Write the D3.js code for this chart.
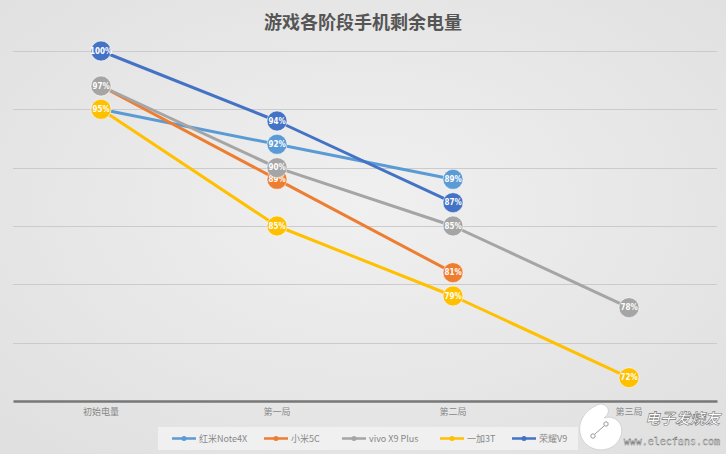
<!DOCTYPE html>
<html><head><meta charset="utf-8">
<script src="https://cdn.jsdelivr.net/npm/d3@7"></script>
<style>
html,body{margin:0;padding:0;}
body{width:726px;height:454px;overflow:hidden;}
svg{display:block;font-family:"Noto Sans CJK SC","Noto Sans",sans-serif;}
</style></head>
<body>
<svg id="chart" width="726" height="454"></svg>
<script>
const categories = ["初始电量", "第一局", "第二局", "第三局"];
const seriesNames = ["红米Note4X", "小米5C", "vivo X9 Plus", "一加3T", "荣耀V9"];
const seriesColors = ["#5b9bd5", "#ed7d31", "#a5a5a5", "#ffc000", "#4472c4"];
const valuesRedmi = [95, 92, 89];
const valuesMi5C = [97, 89, 81];
const valuesVivo = [97, 90, 85, 78];
const valuesOneplus = [95, 85, 79, 72];
const valuesHonor = [100, 94, 87];
const yTicks = [70, 75, 80, 85, 90, 95, 100];
const title = "游戏各阶段手机剩余电量";

const allValues = [valuesRedmi, valuesMi5C, valuesVivo, valuesOneplus, valuesHonor];
const series = seriesNames.map((n, i) => ({name: n, color: seriesColors[i], values: allValues[i]}));

const svg = d3.select("#chart");
const W = 726, H = 454;

// background
const defs = svg.append("defs");
const rg = defs.append("radialGradient").attr("id", "bg").attr("cx", "50%").attr("cy", "45%").attr("r", "70%");
rg.append("stop").attr("offset", "0%").attr("stop-color", "#f0f0f0");
rg.append("stop").attr("offset", "100%").attr("stop-color", "#e0e0e0");
svg.append("rect").attr("width", W).attr("height", H).attr("fill", "url(#bg)");

const x = d3.scaleBand().domain(categories).range([13, 717]);
const y = d3.scaleLinear().domain([70, 100]).range([401, 51]);
const cx = c => x(c) + x.bandwidth() / 2;

// title
svg.append("text").attr("x", 363).attr("y", 29).attr("text-anchor", "middle")
  .attr("font-size", 18).attr("font-weight", "bold").attr("fill", "#555").text(title);

// gridlines
const grid = svg.append("g");
grid.selectAll("line").data(yTicks.slice(1)).join("line")
  .attr("x1", 13).attr("x2", 717)
  .attr("y1", d => Math.round(y(d)) + 0.5).attr("y2", d => Math.round(y(d)) + 0.5)
  .attr("stroke", "#cbcbcb").attr("stroke-width", 1);

// x axis
const xAxis = d3.axisBottom(x).tickSize(0).tickPadding(8);
const gx = svg.append("g").attr("transform", `translate(0,${y(70)})`).call(xAxis);
gx.select(".domain").attr("stroke", "#777").attr("stroke-width", 2.5);
gx.selectAll("text").attr("font-size", 9).attr("fill", "#888")
  .attr("font-family", "'Noto Sans CJK SC',sans-serif");

// lines
const line = d3.line().x((d, i) => cx(categories[i])).y(d => y(d));
svg.append("g").selectAll("path").data(series).join("path")
  .attr("d", s => line(s.values)).attr("fill", "none")
  .attr("stroke", s => s.color).attr("stroke-width", 3).attr("stroke-linejoin", "round");

// markers
const pts = [];
series.forEach(s => s.values.forEach((v, i) => pts.push({s, v, c: categories[i]})));
const mk = svg.append("g").selectAll("g").data(pts).join("g")
  .attr("transform", d => `translate(${cx(d.c)},${y(d.v)})`);
mk.append("circle").attr("r", 10).attr("fill", d => d.s.color)
  .attr("stroke", "rgba(255,255,255,0.5)").attr("stroke-width", 1);
mk.append("text").attr("text-anchor", "middle").attr("dy", "0.35em")
  .attr("font-size", 8).attr("font-weight", "bold").attr("fill", "#fff")
  .attr("font-family", "'DejaVu Sans Condensed','Liberation Sans Narrow',sans-serif")
  .text(d => d.v + "%");

// legend
const lg = svg.append("g");
lg.append("rect").attr("x", 158).attr("y", 427).attr("width", 420).attr("height", 23)
  .attr("fill", "#f0f0f0");
const legendX = [172, 264, 342, 440, 512];
const items = lg.selectAll("g").data(series).join("g")
  .attr("transform", (d, i) => `translate(${legendX[i]},438.5)`);
items.append("line").attr("x1", 0).attr("x2", 24).attr("stroke", d => d.color).attr("stroke-width", 2.5);
items.append("circle").attr("cx", 12).attr("r", 2.5).attr("fill", d => d.color);
items.append("text").attr("x", 27).attr("dy", "0.35em").attr("font-size", 9).attr("fill", "#888")
  .text(d => d.name);

// watermark
const wm = svg.append("g");
wm.append("path").attr("d", "M600,404 C582,410 574,428 584,442 C594,454 614,452 620,438 C626,426 616,414 604,418 C612,412 608,404 600,404 Z")
  .attr("fill", "#fff").attr("stroke", "#ccc").attr("stroke-width", 0.8);
wm.append("circle").attr("cx", 593).attr("cy", 436).attr("r", 2.2).attr("fill", "none").attr("stroke", "#999");
wm.append("circle").attr("cx", 606).attr("cy", 424).attr("r", 2.2).attr("fill", "none").attr("stroke", "#999");
wm.append("line").attr("x1", 595).attr("y1", 434).attr("x2", 604).attr("y2", 426).attr("stroke", "#999");
wm.append("text").attr("x", 720).attr("y", 424).attr("text-anchor", "end")
  .attr("font-size", 15).attr("font-style", "italic").attr("font-weight", "bold")
  .attr("fill", "#fff").attr("stroke", "#777").attr("stroke-width", 0.6).text("电子发烧友");
wm.append("text").attr("x", 720).attr("y", 445).attr("text-anchor", "end")
  .attr("font-size", 10).attr("fill", "#fff").attr("stroke", "#666").attr("stroke-width", 0.4)
  .attr("font-family", "'DejaVu Sans Mono',monospace").text("www.elecfans.com");
</script>
</body></html>
